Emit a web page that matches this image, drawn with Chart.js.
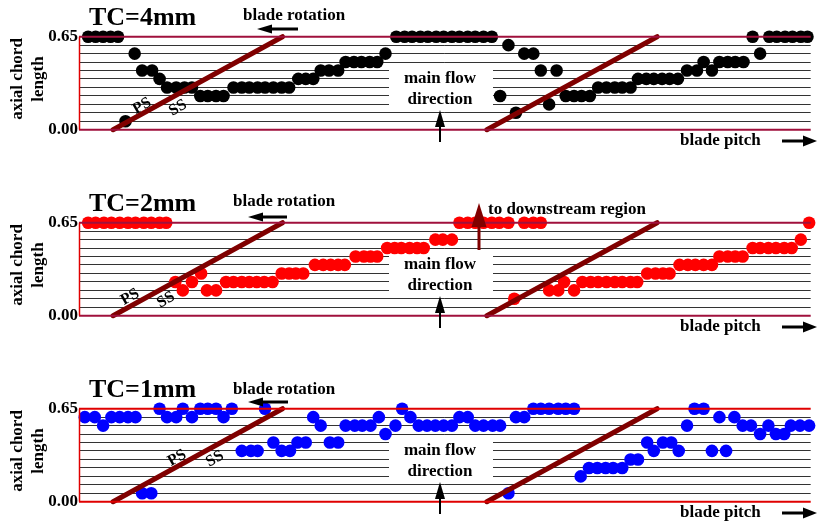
<!DOCTYPE html>
<html>
<head>
<meta charset="utf-8">
<script src="https://cdn.jsdelivr.net/npm/chart.js@4.4.1/dist/chart.umd.min.js"></script>
<style>
  body { margin: 0; background: #fff; }
  canvas { position: absolute; left: 0; }
</style>
</head>
<body>
<canvas id="tc4" width="817" height="186" style="top:0px"></canvas>
<canvas id="tc2" width="817" height="186" style="top:186px"></canvas>
<canvas id="tc1" width="817" height="154" style="top:372px"></canvas>
<script>
// horizontal measuring levels (axial chord length), 0.00 .. 0.65
var gridLevels = [0, 0.059, 0.118, 0.177, 0.236, 0.295, 0.355, 0.414, 0.473, 0.532, 0.591, 0.65];
var yTickLabels = ['0.00', '0.65'];

// blade lines: foot (y=0) and tip (y=0.65) positions along the pitch
var bladeFootX = [4.1, 49.1];
var bladeTipX = [24.5, 69.6];

// [position along pitch, axial chord length]
var tc4Points = [
    [1.1, 0.65], [2.0, 0.65], [2.9, 0.65], [3.8, 0.65], [4.7, 0.65], [5.6, 0.059], [6.7, 0.532],
    [7.6, 0.414], [8.8, 0.414], [9.7, 0.355], [10.6, 0.295], [11.7, 0.295], [12.7, 0.295], [13.6, 0.295],
    [14.6, 0.236], [15.5, 0.236], [16.5, 0.236], [17.4, 0.236],
    [18.6, 0.295], [19.6, 0.295], [20.5, 0.295], [21.5, 0.295], [22.4, 0.295], [23.4, 0.295], [24.4, 0.295], [25.3, 0.295],
    [26.4, 0.355], [27.3, 0.355], [28.2, 0.355], [29.1, 0.414], [30.1, 0.414], [31.2, 0.414],
    [32.1, 0.473], [33.1, 0.473], [34.0, 0.473], [35.0, 0.473], [35.9, 0.473], [36.9, 0.532],
    [38.2, 0.65], [39.2, 0.65], [40.1, 0.65], [41.1, 0.65], [42.0, 0.65], [43.0, 0.65], [43.9, 0.65],
    [44.9, 0.65], [45.8, 0.65], [46.8, 0.65], [47.7, 0.65], [48.7, 0.65], [49.7, 0.65],
    [50.7, 0.236], [51.7, 0.591], [52.6, 0.118], [53.6, 0.532], [54.7, 0.532], [55.6, 0.414], [56.6, 0.177], [57.5, 0.414],
    [58.6, 0.236], [59.6, 0.236], [60.5, 0.236], [61.5, 0.236],
    [62.5, 0.295], [63.5, 0.295], [64.5, 0.295], [65.4, 0.295], [66.4, 0.295],
    [67.3, 0.355], [68.3, 0.355], [69.2, 0.355], [70.2, 0.355], [71.1, 0.355], [72.1, 0.355],
    [73.2, 0.414], [74.4, 0.414], [75.2, 0.473], [76.2, 0.414],
    [77.1, 0.473], [78.1, 0.473], [79.0, 0.473], [80.0, 0.473], [81.1, 0.65], [82.0, 0.532],
    [83.1, 0.65], [84.0, 0.65], [85.0, 0.65], [85.9, 0.65], [86.9, 0.65], [87.7, 0.65]
];

var tc2Points = [
    [1.1, 0.65], [2.0, 0.65], [3.0, 0.65], [3.9, 0.65], [4.9, 0.65], [5.9, 0.65], [6.8, 0.65],
    [7.8, 0.65], [8.7, 0.65], [9.7, 0.65], [10.5, 0.65],
    [11.6, 0.236], [12.5, 0.177], [13.6, 0.236], [14.7, 0.295], [15.4, 0.177], [16.5, 0.177],
    [17.7, 0.236], [18.6, 0.236], [19.6, 0.236], [20.5, 0.236], [21.4, 0.236], [22.3, 0.236], [23.3, 0.236],
    [24.4, 0.295], [25.3, 0.295], [26.1, 0.295], [27.0, 0.295],
    [28.4, 0.355], [29.4, 0.355], [30.3, 0.355], [31.2, 0.355], [32.0, 0.355],
    [33.3, 0.414], [34.3, 0.414], [35.1, 0.414], [35.9, 0.414],
    [37.1, 0.473], [38.0, 0.473], [38.8, 0.473], [39.8, 0.473], [40.7, 0.473], [41.5, 0.473],
    [42.9, 0.532], [43.8, 0.532], [44.9, 0.532],
    [45.8, 0.65], [46.8, 0.65], [47.7, 0.65], [48.7, 0.65], [49.7, 0.65], [50.6, 0.65], [51.7, 0.65],
    [52.4, 0.118], [53.6, 0.65], [54.7, 0.65], [55.6, 0.65],
    [56.6, 0.177], [57.7, 0.177], [58.4, 0.236], [59.6, 0.177],
    [60.6, 0.236], [61.6, 0.236], [62.5, 0.236], [63.5, 0.236], [64.5, 0.236], [65.4, 0.236], [66.4, 0.236], [67.2, 0.236],
    [68.4, 0.295], [69.4, 0.295], [70.3, 0.295], [71.1, 0.295],
    [72.3, 0.355], [73.3, 0.355], [74.2, 0.355], [75.2, 0.355], [76.2, 0.355],
    [77.1, 0.414], [78.1, 0.414], [79.0, 0.414], [79.9, 0.414],
    [81.1, 0.473], [82.0, 0.473], [83.0, 0.473], [83.9, 0.473], [84.9, 0.473], [85.8, 0.473],
    [86.9, 0.532], [87.9, 0.65]
];

var tc1Points = [
    [0.7, 0.591], [1.9, 0.591], [2.9, 0.532], [3.9, 0.591], [4.9, 0.591], [5.9, 0.591], [6.8, 0.591],
    [7.6, 0.059], [8.7, 0.059],
    [9.7, 0.65], [10.6, 0.591], [11.7, 0.591], [12.5, 0.65], [13.6, 0.591], [14.6, 0.65], [15.5, 0.65],
    [16.5, 0.65], [17.4, 0.591], [18.4, 0.65],
    [19.6, 0.355], [20.7, 0.355], [21.5, 0.355],
    [22.4, 0.65], [23.4, 0.414], [24.4, 0.355], [25.4, 0.355], [26.3, 0.414], [27.3, 0.414],
    [28.2, 0.591], [29.1, 0.532], [30.2, 0.414], [31.2, 0.414],
    [32.1, 0.532], [33.2, 0.532], [34.1, 0.532], [35.1, 0.532],
    [36.1, 0.591], [36.9, 0.473], [38.1, 0.532], [38.9, 0.65], [39.9, 0.591],
    [40.9, 0.532], [41.9, 0.532], [42.9, 0.532], [43.9, 0.532], [44.9, 0.532],
    [45.8, 0.591], [46.8, 0.591],
    [47.7, 0.532], [48.7, 0.532], [49.8, 0.532], [50.7, 0.532],
    [51.7, 0.059], [52.6, 0.591], [53.6, 0.591],
    [54.7, 0.65], [55.6, 0.65], [56.6, 0.65], [57.7, 0.65], [58.6, 0.65], [59.6, 0.65],
    [60.4, 0.177],
    [61.4, 0.236], [62.4, 0.236], [63.4, 0.236], [64.3, 0.236], [65.4, 0.236],
    [66.4, 0.295], [67.3, 0.295],
    [68.4, 0.414], [69.2, 0.355], [70.3, 0.414], [71.3, 0.414], [72.2, 0.355],
    [73.2, 0.532], [74.1, 0.65], [75.2, 0.65],
    [76.2, 0.355], [77.1, 0.591], [77.9, 0.355], [78.9, 0.591],
    [79.9, 0.532], [80.9, 0.532], [82.0, 0.473], [83.0, 0.532], [83.9, 0.473], [84.9, 0.473],
    [85.7, 0.532], [86.8, 0.532], [87.9, 0.532]
];

var serif = "'Liberation Serif', 'Times New Roman', serif";

// filled-head arrow from (x1,y1) to the tip (x2,y2)
function drawArrow(ctx, x1, y1, x2, y2, head, half, width, color) {
    var ang = Math.atan2(y2 - y1, x2 - x1);
    var bx = x2 - head * Math.cos(ang), by = y2 - head * Math.sin(ang);
    ctx.save();
    ctx.strokeStyle = color;
    ctx.fillStyle = color;
    ctx.lineWidth = width;
    ctx.beginPath();
    ctx.moveTo(x1, y1);
    ctx.lineTo(bx, by);
    ctx.stroke();
    ctx.beginPath();
    ctx.moveTo(x2, y2);
    ctx.lineTo(bx + half * Math.sin(ang), by - half * Math.cos(ang));
    ctx.lineTo(bx - half * Math.sin(ang), by + half * Math.cos(ang));
    ctx.closePath();
    ctx.fill();
    ctx.restore();
}

function drawText(ctx, text, x, y, size, align, angle) {
    ctx.save();
    ctx.translate(x, y);
    if (angle) ctx.rotate(angle);
    ctx.font = 'bold ' + size + 'px ' + serif;
    ctx.fillStyle = '#000';
    ctx.textAlign = align;
    ctx.textBaseline = 'middle';
    ctx.fillText(text, 0, 0);
    ctx.restore();
}

var panelDecor = {
    id: 'panelDecor',
    beforeDatasetsDraw: function (chart) {
        // white patch behind "main flow direction"
        var ctx = chart.ctx, y = chart.scales.y;
        var top = y.getPixelForValue(gridLevels[7]) - 4;
        var bottom = y.getPixelForValue(gridLevels[3]) + 4;
        ctx.save();
        ctx.fillStyle = '#fff';
        ctx.fillRect(389, top, 104, bottom - top);
        ctx.restore();
    },
    afterDatasetsDraw: function (chart, args, opts) {
        var ctx = chart.ctx, a = chart.chartArea;
        ctx.save();
        ctx.strokeStyle = opts.frameColor;
        ctx.lineWidth = 2;
        ctx.beginPath();
        ctx.moveTo(a.left, a.top);
        ctx.lineTo(a.right, a.top);
        ctx.moveTo(a.left, a.bottom);
        ctx.lineTo(a.right, a.bottom);
        ctx.stroke();
        ctx.strokeStyle = '#e00000';
        ctx.lineWidth = 1.5;
        ctx.beginPath();
        ctx.moveTo(a.left + 0.5, a.top);
        ctx.lineTo(a.left + 0.5, a.bottom);
        ctx.stroke();
        ctx.restore();
        if (opts.downstream) {
            drawArrow(ctx, 479, 64, 479, 17, 24, 7.5, 3, '#800000');
            drawText(ctx, 'to downstream region', 488, 24, 17, 'left');
        }
    },
    afterDraw: function (chart, args, opts) {
        var ctx = chart.ctx;
        // title
        ctx.save();
        ctx.font = 'bold 26px ' + serif;
        ctx.fillStyle = '#000';
        ctx.textBaseline = 'alphabetic';
        ctx.fillText(opts.title, 89, 25);
        ctx.restore();
        // blade rotation
        drawText(ctx, 'blade rotation', opts.rotX, opts.rotY, 17, 'left');
        drawArrow(ctx, opts.rotArrow[0], opts.rotArrow[2], opts.rotArrow[1], opts.rotArrow[2], 15, 4.5, 3, '#000');
        // PS / SS
        drawText(ctx, 'PS', opts.ps[0], opts.ps[1], 16, 'center', -0.52);
        drawText(ctx, 'SS', opts.ss[0], opts.ss[1], 16, 'center', -0.52);
        // main flow direction
        drawText(ctx, 'main flow', 440, 79, 17, 'center');
        drawText(ctx, 'direction', 440, 100, 17, 'center');
        drawArrow(ctx, 440, 142, 440, 110, 17, 5, 2, '#000');
        // blade pitch
        drawText(ctx, 'blade pitch', 680, 141, 17, 'left');
        drawArrow(ctx, 782, 141, 817, 141, 14, 5.5, 3, '#000');
        // y axis title
        drawText(ctx, 'axial chord', 18, 79, 17, 'center', -Math.PI / 2);
        drawText(ctx, 'length', 39, 79, 17, 'center', -Math.PI / 2);
    }
};

function makePanel(canvasId, points, color, decor) {
    var ctx = document.getElementById(canvasId).getContext('2d');
    var height = ctx.canvas.height;
    var datasets = [{
        data: points.map(p => ({ x: p[0], y: p[1] })),
        backgroundColor: color,
        borderWidth: 0,
        pointBorderWidth: 0,
        pointRadius: 6.3,
        pointHoverRadius: 6.3,
        clip: false,
        order: 1
    }];
    bladeFootX.forEach(function (fx, i) {
        datasets.push({
            type: 'line',
            data: [{ x: fx, y: 0 }, { x: bladeTipX[i], y: 0.65 }],
            borderColor: '#800000',
            borderWidth: 5,
            borderCapStyle: 'round',
            pointRadius: 0,
            clip: false,
            order: 0
        });
    });
    return new Chart(ctx, {
        type: 'scatter',
        data: { datasets: datasets },
        options: {
            responsive: false,
            animation: false,
            events: [],
            layout: { padding: { top: 36.7, bottom: height - 129.7, left: 0, right: 0 } },
            plugins: {
                legend: { display: false },
                tooltip: { enabled: false },
                panelDecor: decor
            },
            scales: {
                x: { type: 'linear', display: false, min: 0, max: 88.09 },
                y: {
                    min: 0,
                    max: 0.65,
                    afterBuildTicks: function (scale) {
                        scale.ticks = gridLevels.map(v => ({ value: v }));
                    },
                    afterFit: function (scale) { scale.width = 79; },
                    ticks: {
                        autoSkip: false,
                        padding: 1,
                        color: '#000',
                        font: { family: serif, size: 17, weight: 'bold' },
                        callback: function (value, index) {
                            if (index === 0) return yTickLabels[0];
                            if (index === gridLevels.length - 1) return yTickLabels[1];
                            return '';
                        }
                    },
                    grid: {
                        drawTicks: false,
                        lineWidth: 1,
                        color: function (c) {
                            return (c.index === 0 || c.index === gridLevels.length - 1) ? 'rgba(0,0,0,0)' : '#333';
                        }
                    },
                    border: { display: false }
                }
            }
        },
        plugins: [panelDecor]
    });
}

makePanel('tc4', tc4Points, '#000000', {
    title: 'TC=4mm', rotX: 243, rotY: 16, rotArrow: [298, 257, 29],
    ps: [142, 106], ss: [178, 108], frameColor: '#a0103c', downstream: false
});
makePanel('tc2', tc2Points, '#ff0000', {
    title: 'TC=2mm', rotX: 233, rotY: 16, rotArrow: [287, 248, 31],
    ps: [130, 111], ss: [166, 114], frameColor: '#a0103c', downstream: true
});
makePanel('tc1', tc1Points, '#0000ff', {
    title: 'TC=1mm', rotX: 233, rotY: 18, rotArrow: [288, 248, 30],
    ps: [177, 86], ss: [215, 87], frameColor: '#e00000', downstream: false
});
</script>
</body>
</html>
